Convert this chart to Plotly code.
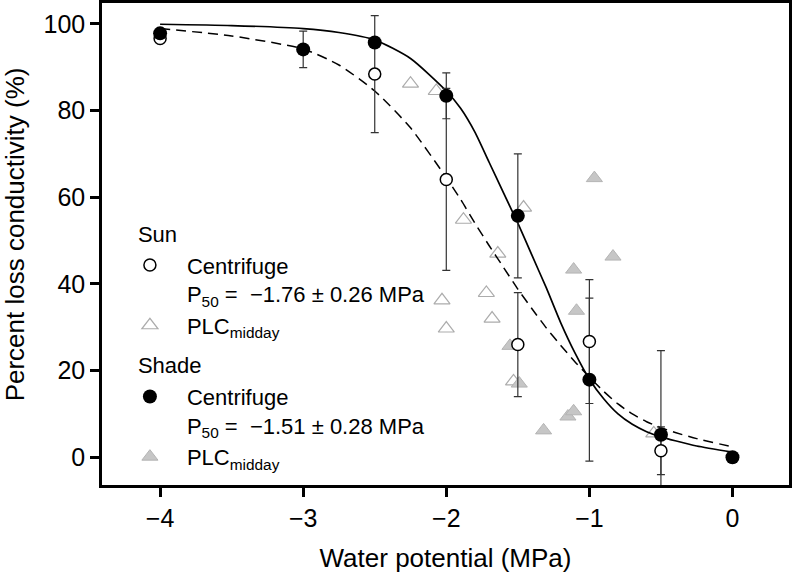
import plotly.graph_objects as go

# ---------------- data ----------------
# Centrifuge vulnerability curves: water potential (MPa), PLC (%), SE
sun_psi = [-4.0, -2.5, -2.0, -1.5, -1.0, -0.5]
sun_plc = [96.6, 88.4, 64.1, 26.0, 26.7, 1.5]
sun_err = [0.0, 13.5, 21.0, 12.0, 14.3, 5.5]

shade_psi = [-4.0, -3.0, -2.5, -2.0, -1.5, -1.0, -0.5, 0.0]
shade_plc = [97.8, 94.1, 95.7, 83.4, 55.7, 17.9, 5.2, 0.0]
shade_err = [0.0, 4.2, 1.0, 5.3, 14.3, 18.8, 19.4, 0.0]

# Midday PLC measurements
sun_mid_psi = [-2.25, -2.07, -1.88, -1.46, -1.64, -1.72, -2.03, -1.68, -2.0, -1.53, -0.55]
sun_mid_plc = [86.2, 84.5, 54.8, 57.6, 47.0, 37.9, 36.2, 32.0, 29.7, 17.5, 5.5]

shade_mid_psi = [-0.965, -1.11, -0.835, -1.09, -1.555, -1.49, -1.15, -1.11, -1.32]
shade_mid_plc = [64.4, 43.3, 46.3, 33.8, 25.7, 17.0, 9.4, 10.6, 6.2]

# Fitted curves
shade_fit_psi = [-4.0, -3.5, -3.0, -2.75, -2.5, -2.25, -2.0, -1.9, -1.8, -1.7, -1.6, -1.5,
                 -1.4, -1.3, -1.2, -1.1, -1.0, -0.9, -0.8, -0.7, -0.6, -0.5, -0.4, -0.25, 0.0]
shade_fit_plc = [99.9, 99.6, 98.9, 98.0, 96.3, 92.0, 84.5, 80.5, 75.0, 68.0, 61.0, 54.0,
                 46.5, 39.0, 31.0, 24.0, 18.0, 13.5, 10.0, 7.6, 5.9, 4.7, 3.8, 2.6, 1.2]

sun_fit_psi = [-4.0, -3.5, -3.0, -2.75, -2.5, -2.25, -2.0, -1.9, -1.8, -1.7, -1.6, -1.5,
               -1.4, -1.3, -1.2, -1.1, -1.0, -0.9, -0.8, -0.7, -0.6, -0.5, -0.4, -0.25, 0.0]
sun_fit_plc = [98.9, 97.2, 94.2, 90.5, 84.5, 76.0, 64.5, 59.5, 54.0, 48.8, 43.8, 38.8,
               34.2, 29.8, 25.8, 22.0, 18.5, 15.2, 12.3, 10.0, 8.2, 6.8, 5.7, 4.3, 2.4]

x_ticks = [-4, -3, -2, -1, 0]
x_tick_text = ["\u22124", "\u22123", "\u22122", "\u22121", "0"]
y_ticks = [0, 20, 40, 60, 80, 100]

x_range = [-4.406, 0.395]
y_range = [-6.4, 104.8]

FONT = "Liberation Sans, Arial, Helvetica, sans-serif"
BAR_COLOR = "#333333"
PAD = "\u2002"  # small lead-in so the legend text sits where the reference puts it

fig = go.Figure()

# midday triangles (drawn first, underneath)
fig.add_trace(go.Scatter(
    x=sun_mid_psi, y=sun_mid_plc, mode="markers",
    marker=dict(symbol="triangle-up-open", size=14, color="#acacac", line=dict(width=1.2)),
    name=PAD + "PLC<sub>midday</sub>", legendgroup="sun", legendrank=2,
))
fig.add_trace(go.Scatter(
    x=shade_mid_psi, y=shade_mid_plc, mode="markers",
    marker=dict(symbol="triangle-up", size=14, color="#c6c6c6", line=dict(width=1, color="#b4b4b4")),
    name=PAD + "PLC<sub>midday</sub>", legendgroup="shade", legendrank=4,
))

# fitted curves
fig.add_trace(go.Scatter(
    x=sun_fit_psi, y=sun_fit_plc, mode="lines",
    line=dict(color="black", width=1.5, dash="10px,6px", shape="spline", smoothing=0.6),
    showlegend=False, hoverinfo="skip",
))
fig.add_trace(go.Scatter(
    x=shade_fit_psi, y=shade_fit_plc, mode="lines",
    line=dict(color="black", width=1.7, shape="spline", smoothing=0.6),
    showlegend=False, hoverinfo="skip",
))

# error bars (separate so that all circles sit on top of all bars)
for px, py, pe in [(sun_psi, sun_plc, sun_err), (shade_psi, shade_plc, shade_err)]:
    fig.add_trace(go.Scatter(
        x=px, y=py, mode="markers",
        marker=dict(size=1, opacity=0),
        error_y=dict(type="data", array=pe, visible=True, color=BAR_COLOR, thickness=1.2, width=4),
        showlegend=False, hoverinfo="skip",
    ))

# centrifuge circles
fig.add_trace(go.Scatter(
    x=sun_psi, y=sun_plc, mode="markers",
    marker=dict(symbol="circle", size=12, color="white", line=dict(color="black", width=1.5)),
    name=PAD + "Centrifuge<br>" + PAD + "P<sub>50</sub> =  \u22121.76 \u00b1 0.26 MPa",
    legendgroup="sun", legendgrouptitle=dict(text="Sun"), legendrank=1,
))
fig.add_trace(go.Scatter(
    x=shade_psi, y=shade_plc, mode="markers",
    marker=dict(symbol="circle", size=14, color="black", line=dict(color="black", width=0)),
    name=PAD + "Centrifuge<br>" + PAD + "P<sub>50</sub> =  \u22121.51 \u00b1 0.28 MPa",
    legendgroup="shade", legendgrouptitle=dict(text="Shade"), legendrank=3,
))

axis_common = dict(
    showgrid=False, zeroline=False, showline=True, linecolor="black", linewidth=2.5,
    ticks="outside", ticklen=9, tickwidth=2.5, tickcolor="black", automargin=False,
    tickfont=dict(size=25, color="black", family=FONT),
)

fig.update_layout(
    width=793, height=574,
    margin=dict(l=102, r=4, t=3, b=89),
    paper_bgcolor="white", plot_bgcolor="white",
    font=dict(family=FONT, color="black"),
    xaxis=dict(range=x_range, tickvals=x_ticks, ticktext=x_tick_text, mirror=True,
               title=dict(text="Water potential (MPa)", font=dict(size=26), standoff=19),
               **axis_common),
    yaxis=dict(range=y_range, tickvals=y_ticks, mirror=True, **axis_common),
    xaxis2=dict(range=x_range, tickvals=x_ticks, overlaying="x", side="top", anchor="y",
                showticklabels=False, showgrid=False, zeroline=False, showline=False,
                ticks="inside", ticklen=9, tickwidth=2.5, tickcolor="black", automargin=False),
    yaxis2=dict(range=y_range, tickvals=y_ticks, overlaying="y", side="right", anchor="x",
                showticklabels=False, showgrid=False, zeroline=False, showline=False,
                ticks="inside", ticklen=7, tickwidth=2.5, tickcolor="black", automargin=False),
    legend=dict(
        x=0.045, y=0.565, xanchor="left", yanchor="top",
        bgcolor="rgba(0,0,0,0)", borderwidth=0,
        font=dict(size=22, family=FONT, color="black"),
        grouptitlefont=dict(size=22, family=FONT, color="black"),
        traceorder="grouped", tracegroupgap=8, itemwidth=42, indentation=-9,
        valign="top",
    ),
    showlegend=True,
    annotations=[dict(
        text="Percent loss conductivity (%)", textangle=-90,
        xref="paper", yref="paper", x=(15 - 102) / 687, y=0.52,
        xanchor="center", yanchor="middle", showarrow=False,
        font=dict(size=26, family=FONT, color="black"),
    )],
)

fig.write_html("out.html", config={"displayModeBar": False},
               post_script="document.body.style.margin='0px';")
